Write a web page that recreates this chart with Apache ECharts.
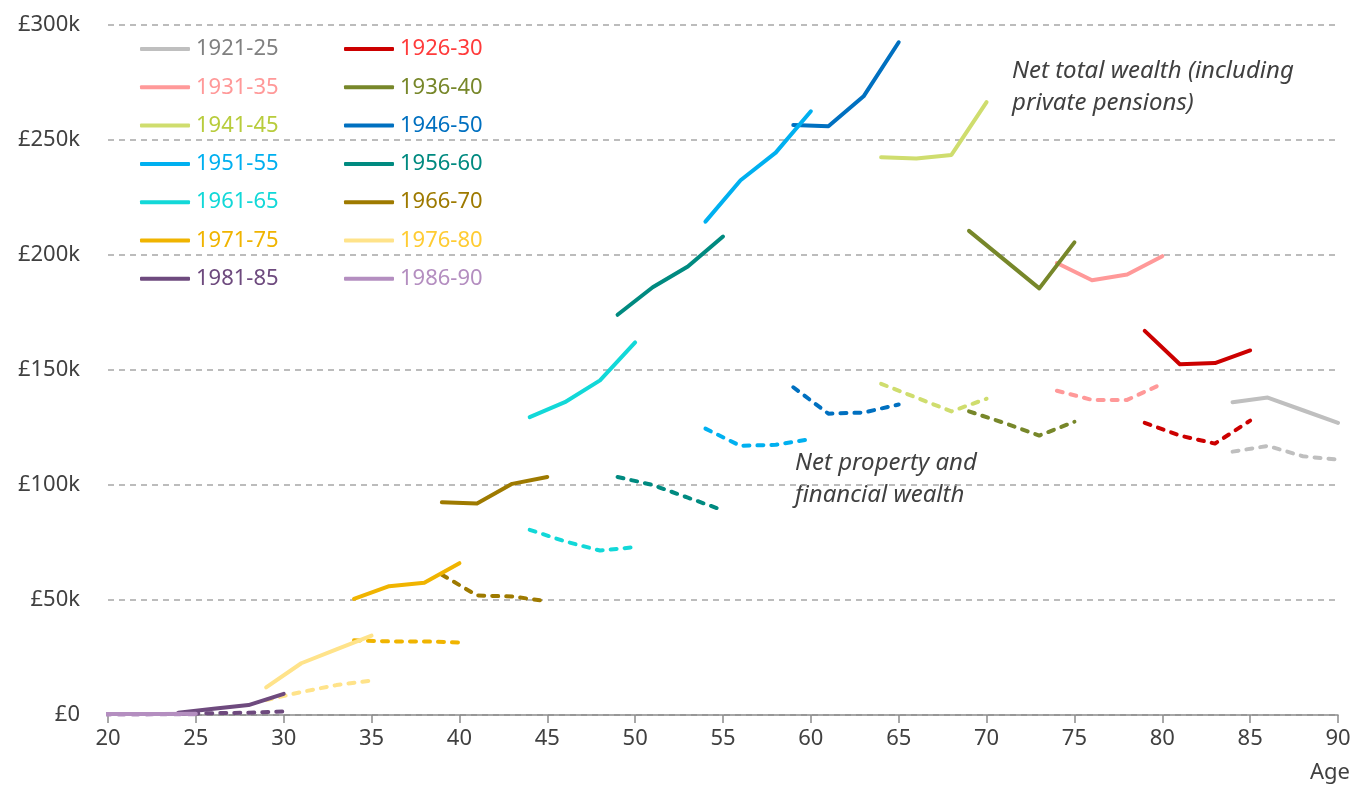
<!DOCTYPE html>
<html>
<head>
<meta charset="utf-8">
<script src="https://cdn.jsdelivr.net/npm/echarts@6/dist/echarts.min.js"></script>
<style>
  html, body { margin: 0; padding: 0; background: #fff; }
  #main { width: 1367px; height: 793px; }
</style>
</head>
<body>
<div id="main"></div>
<script>
// cohorts (birth years), values in £ thousands
var cohorts = ['1921-25','1926-30','1931-35','1936-40','1941-45','1946-50','1951-55',
               '1956-60','1961-65','1966-70','1971-75','1976-80','1981-85','1986-90'];

var ages = [
    [84, 86, 88, 90],
    [79, 81, 83, 85],
    [74, 76, 78, 80],
    [69, 71, 73, 75],
    [64, 66, 68, 70],
    [59, 61, 63, 65],
    [54, 56, 58, 60],
    [49, 51, 53, 55],
    [44, 46, 48, 50],
    [39, 41, 43, 45],
    [34, 36, 38, 40],
    [29, 31, 33, 35],
    [24, 26, 28, 30],
    [19, 21, 23, 25]
];

// net total wealth (incl. private pensions)
var totalWealth = [
    [136, 138, 132.5, 127],
    [167, 152.5, 153, 158.5],
    [196.5, 189, 191.5, 199.5],
    [210.5, 198, 185.5, 205.5],
    [242.5, 242, 243.5, 266.5],
    [256.5, 256, 269, 292.5],
    [214.5, 232.5, 244.5, 262.5],
    [174, 186, 195, 208],
    [129.5, 136, 145.5, 162],
    [92.5, 92, 100.5, 103.5],
    [50.5, 56, 57.5, 66],
    [12, 22.5, 28.5, 34.5],
    [1, 2.7, 4.3, 9.2],
    [0.4, 0.4, 0.4, 0.5]
];

// net property and financial wealth
var propFinWealth = [
    [114.5, 117, 112.5, 111],
    [127, 121.5, 118, 128],
    [141, 137, 137, 144],
    [132, 127, 121.5, 127.5],
    [144, 138, 132, 137.5],
    [142.5, 131, 131.5, 135],
    [124.5, 117, 117.5, 120],
    [103.5, 100, 94.5, 89],
    [80.5, 75.5, 71.5, 73],
    [61, 52, 51.5, 49.5],
    [32.5, 32, 32, 31.5],
    [6.5, 10, 13, 15],
    [0.5, 0.8, 1, 1.5],
    [0.2, 0.2, 0.3, 0.3]
];

var lineColors = ['#BFBFBF','#CC0000','#FF9999','#77872A','#CFDD6E','#0070C0','#00B0F0',
                  '#008A80','#12D8D8','#9E7A00','#F0B400','#FFE38A','#6E4A7E','#B48EC0'];
var textColors = ['#808080','#FF3B3B','#FF9999','#77872A','#B8CC3C','#0070C0','#00B0F0',
                  '#008A80','#12D8D8','#9E7A00','#F0B400','#FFCC33','#6E4A7E','#B48EC0'];

var FONT = '"Noto Sans"';

var myChart = echarts.init(document.getElementById('main'));

var series = [];
cohorts.forEach(function (name, i) {
    series.push({
        name: name,
        type: 'line',
        symbol: 'none',
        z: 3,
        color: lineColors[i],
        lineStyle: { width: 4, color: lineColors[i], cap: 'round', join: 'round' },
        data: ages[i].map(function (a, j) { return [a, totalWealth[i][j]]; })
    });
});
cohorts.forEach(function (name, i) {
    series.push({
        name: name,
        type: 'line',
        symbol: 'none',
        z: 2,
        color: lineColors[i],
        lineStyle: { width: 4, color: lineColors[i], type: [6, 8], cap: 'round', join: 'round' },
        data: ages[i].map(function (a, j) { return [a, propFinWealth[i][j]]; })
    });
});

function legendData(parity) {
    var out = [];
    cohorts.forEach(function (name, i) {
        if (i % 2 === parity) {
            out.push({ name: name, textStyle: { color: textColors[i] } });
        }
    });
    return out;
}

var legendBase = {
    orient: 'vertical',
    top: 38,
    padding: 0,
    itemGap: 16.3,
    itemWidth: 50,
    itemHeight: 4,
    icon: 'roundRect',
    selectedMode: false,
    textStyle: { fontFamily: FONT, fontSize: 22, lineHeight: 22, padding: [0, 0, 0, 1] }
};

var option = {
    animation: false,
    textStyle: { fontFamily: FONT },
    grid: { left: 108, right: 29, top: 25, bottom: 78, containLabel: false },
    legend: [
        Object.assign({}, legendBase, { left: 140, data: legendData(0) }),
        Object.assign({}, legendBase, { left: 344, data: legendData(1) })
    ],
    xAxis: {
        type: 'value',
        min: 20,
        max: 90,
        interval: 5,
        axisLine: { show: true, lineStyle: { color: '#8C8C8C', width: 1.5 } },
        axisTick: { show: true, length: 8, lineStyle: { color: '#8C8C8C', width: 1.5 } },
        axisLabel: { color: '#404040', fontSize: 22, margin: 13, fontFamily: FONT },
        splitLine: { show: false }
    },
    yAxis: {
        type: 'value',
        min: 0,
        max: 300,
        interval: 50,
        axisLine: { show: false },
        axisTick: { show: false },
        axisLabel: {
            color: '#404040', fontSize: 22, margin: 28, fontFamily: FONT,
            formatter: function (v) { return v === 0 ? '£0' : '£' + v + 'k'; }
        },
        splitLine: { show: true, lineStyle: { color: '#A6A6A6', width: 1.5, type: [6, 5] } }
    },
    graphic: [
        {
            type: 'text', left: 1012, top: 55,
            style: { text: 'Net total wealth (including\nprivate pensions)', fill: '#404040',
                     font: 'italic 24px ' + FONT, lineHeight: 32 }
        },
        {
            type: 'text', left: 795, top: 447,
            style: { text: 'Net property and\nfinancial wealth', fill: '#404040',
                     font: 'italic 24px ' + FONT, lineHeight: 32 }
        },
        {
            type: 'text', right: 17, top: 762,
            style: { text: 'Age', fill: '#404040', font: '22px ' + FONT }
        }
    ],
    series: series
};

myChart.setOption(option);
</script>
</body>
</html>
